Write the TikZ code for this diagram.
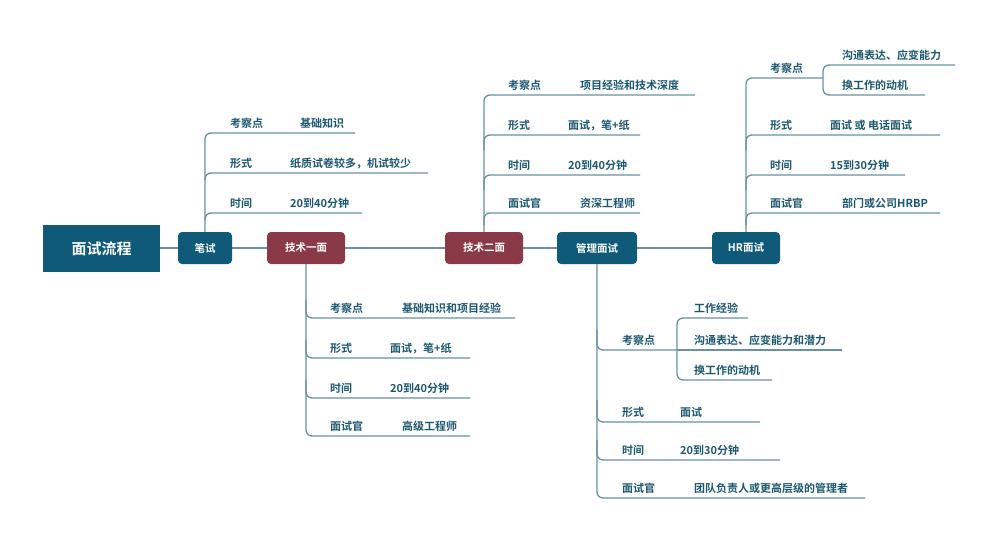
\documentclass[tikz,border=0pt]{standalone}
\usepackage{fontspec}
\setmainfont{Noto Sans CJK SC}[BoldFont={* Bold}]
\definecolor{boxteal}{HTML}{0F5A78}
\definecolor{boxred}{HTML}{8A3A46}
\definecolor{ln}{HTML}{6A929C}
\definecolor{tx}{HTML}{1D5870}
\begin{document}
\begin{tikzpicture}[x=1pt,y=-1pt,
  mainbox/.style={fill=boxteal,text=white,font=\bfseries\fontsize{15}{15}\selectfont,minimum width=117pt,minimum height=47pt,inner sep=0},
  tbox/.style={fill=boxteal,text=white,rounded corners=4pt,font=\bfseries\fontsize{10.5}{10.5}\selectfont,minimum height=32pt,inner sep=0},
  rbox/.style={tbox,fill=boxred},
  lbl/.style={anchor=south west,text=tx,font=\bfseries\fontsize{11}{11}\selectfont,inner sep=0,yshift=4pt},
  conn/.style={draw=ln,line width=1.3pt,rounded corners=6pt}]
\useasboundingbox (0,0) rectangle (1000,544);
% main line
\draw[conn] (160,248) -- (712,248);
\node[mainbox] (root) at (101.5,248.5) {面试流程};
\node[tbox,minimum width=54pt] (bs) at (205,248) {笔试};
\node[rbox,minimum width=78pt] (js1) at (306,248) {技术一面};
\node[rbox,minimum width=78pt] (js2) at (484,248) {技术二面};
\node[tbox,minimum width=80pt] (gl) at (597,248) {管理面试};
\node[tbox,minimum width=68pt] (hr) at (746,248) {HR面试};
% 笔试
\draw[conn] (bs.north) -- (205,133) -- (355,133);
\draw[conn] (205,180) |- (428,173);
\draw[conn] (205,220) |- (362,213);
\node[lbl] (b1a) at (230,133) {考察点}; \node[lbl] (b1b) at (300,133) {基础知识};
\node[lbl] (b2a) at (230,173) {形式}; \node[lbl] (b2b) at (290,173) {纸质试卷较多，机试较少};
\node[lbl] (b3a) at (230,213) {时间}; \node[lbl] (b3b) at (290,213) {20到40分钟};
% 技术一面
\draw[conn] (js1.south) -- (306,436) -- (470,436);
\draw[conn] (306,300) |- (515,318);
\draw[conn] (306,340) |- (470,358);
\draw[conn] (306,380) |- (470,398);
\node[lbl] (t1a) at (330,318) {考察点}; \node[lbl] (t1b) at (402,318) {基础知识和项目经验};
\node[lbl] (t2a) at (330,358) {形式}; \node[lbl] (t2b) at (390,358) {面试，笔+纸};
\node[lbl] (t3a) at (330,398) {时间}; \node[lbl] (t3b) at (390,398) {20到40分钟};
\node[lbl] (t4a) at (330,436) {面试官}; \node[lbl] (t4b) at (402,436) {高级工程师};
% 技术二面
\draw[conn] (js2.north) -- (484,95) -- (695,95);
\draw[conn] (484,150) |- (640,135);
\draw[conn] (484,190) |- (640,175);
\draw[conn] (484,225) |- (640,213);
\node[lbl] (s1a) at (508,95) {考察点}; \node[lbl] (s1b) at (580,95) {项目经验和技术深度};
\node[lbl] (s2a) at (508,135) {形式}; \node[lbl] (s2b) at (568,135) {面试，笔+纸};
\node[lbl] (s3a) at (508,175) {时间}; \node[lbl] (s3b) at (568,175) {20到40分钟};
\node[lbl] (s4a) at (508,213) {面试官}; \node[lbl] (s4b) at (580,213) {资深工程师};
% 管理面试
\draw[conn] (gl.south) -- (597,498) -- (865,498);
\draw[conn] (597,330) |- (677,350);
\draw[conn] (597,400) |- (760,422);
\draw[conn] (597,440) |- (780,460);
\draw[conn] (748,318) -- (677,318) -- (677,380) -- (772,380);
\draw[conn] (677,350) -- (842,350);
\node[lbl] (g1a) at (622,350) {考察点};
\node[lbl] (g11) at (694,318) {工作经验};
\node[lbl] (g12) at (694,350) {沟通表达、应变能力和潜力};
\node[lbl] (g13) at (694,380) {换工作的动机};
\node[lbl] (g2a) at (622,422) {形式}; \node[lbl] (g2b) at (680,422) {面试};
\node[lbl] (g3a) at (622,460) {时间}; \node[lbl] (g3b) at (680,460) {20到30分钟};
\node[lbl] (g4a) at (622,498) {面试官}; \node[lbl] (g4b) at (694,498) {团队负责人或更高层级的管理者};
% HR
\draw[conn] (hr.north) -- (746,78) -- (823,78);
\draw[conn] (746,150) |- (940,135);
\draw[conn] (746,190) |- (905,175);
\draw[conn] (746,225) |- (940,213);
\draw[conn] (955,65) -- (823,65) -- (823,95) -- (925,95);
\node[lbl] (h1a) at (770,78) {考察点};
\node[lbl] (h11) at (842,65) {沟通表达、应变能力};
\node[lbl] (h12) at (842,95) {换工作的动机};
\node[lbl] (h2a) at (770,135) {形式}; \node[lbl] (h2b) at (830,135) {面试 或 电话面试};
\node[lbl] (h3a) at (770,175) {时间}; \node[lbl] (h3b) at (830,175) {15到30分钟};
\node[lbl] (h4a) at (770,213) {面试官}; \node[lbl] (h4b) at (842,213) {部门或公司HRBP};
\end{tikzpicture}
\end{document}
